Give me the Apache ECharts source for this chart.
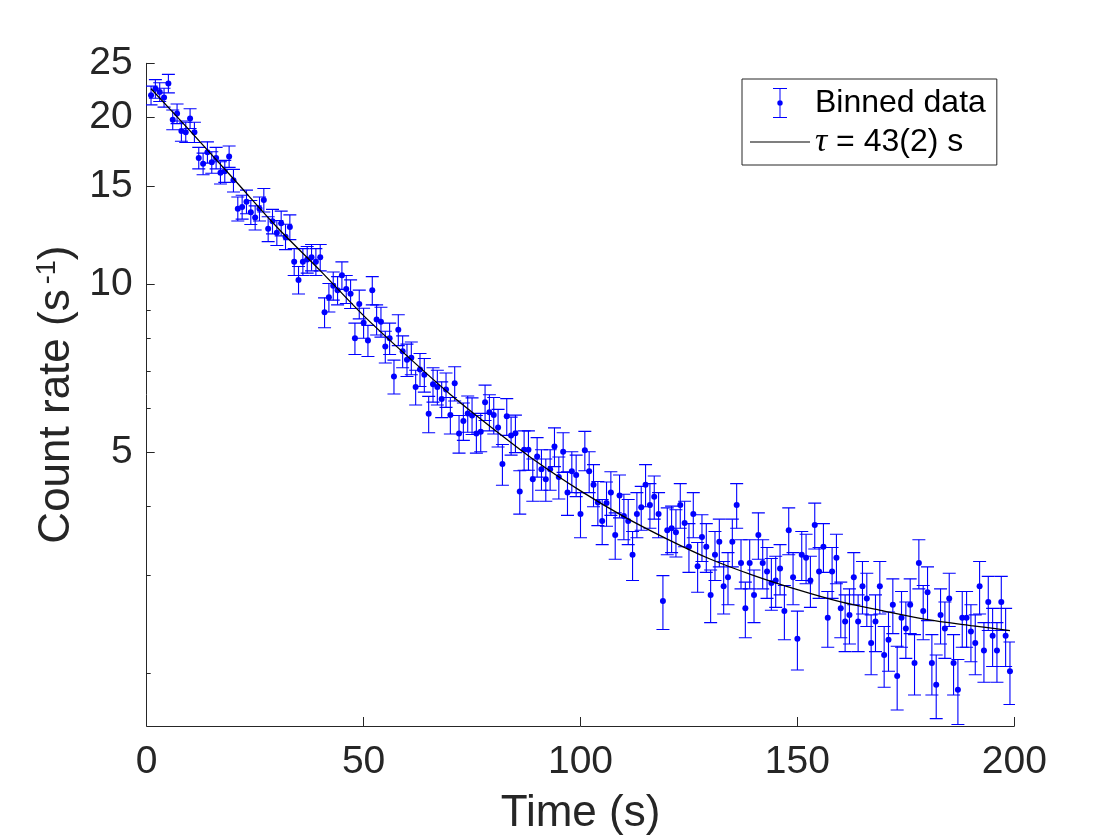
<!DOCTYPE html>
<html>
<head>
<meta charset="utf-8">
<script src="https://cdn.jsdelivr.net/npm/echarts@6.0.0/dist/echarts.min.js"></script>
<style>
  html, body { margin: 0; padding: 0; background: #fff; }
  #chart { width: 1120px; height: 840px; }
</style>
</head>
<body>
<div id="chart"></div>
<script>
// bin centres (s)
var time = [
    1, 2, 3, 4, 5, 6, 7, 8, 9, 10, 11, 12, 13, 14, 15, 16, 17, 18, 19, 20,
    21, 22, 23, 24, 25, 26, 27, 28, 29, 30, 31, 32, 33, 34, 35, 36, 37, 38, 39, 40,
    41, 42, 43, 44, 45, 46, 47, 48, 49, 50, 51, 52, 53, 54, 55, 56, 57, 58, 59, 60,
    61, 62, 63, 64, 65, 66, 67, 68, 69, 70, 71, 72, 73, 74, 75, 76, 77, 78, 79, 80,
    81, 82, 83, 84, 85, 86, 87, 88, 89, 90, 91, 92, 93, 94, 95, 96, 97, 98, 99, 100,
    101, 102, 103, 104, 105, 106, 107, 108, 109, 110, 111, 112, 113, 114, 115, 116, 117, 118, 119, 120,
    121, 122, 123, 124, 125, 126, 127, 128, 129, 130, 131, 132, 133, 134, 135, 136, 137, 138, 139, 140,
    141, 142, 143, 144, 145, 146, 147, 148, 149, 150, 151, 152, 153, 154, 155, 156, 157, 158, 159, 160,
    161, 162, 163, 164, 165, 166, 167, 168, 169, 170, 171, 172, 173, 174, 175, 176, 177, 178, 179, 180,
    181, 182, 183, 184, 185, 186, 187, 188, 189, 190, 191, 192, 193, 194, 195, 196, 197, 198, 199
];

// count rate (1/s)
var rate = [
    21.9, 22.5, 22.2, 21.7, 23.0, 19.8, 20.3, 18.9, 18.8, 19.9, 18.8, 16.9, 16.5, 17.3, 16.6, 16.9, 15.9, 16.0, 17.0, 15.4,
    13.7, 13.8, 14.1, 13.5, 13.2, 13.7, 14.2, 12.6, 13.0, 12.4, 12.9, 12.2, 12.7,
    11.0, 10.2, 11.0, 11.1, 11.2, 11.0, 11.2, 8.92, 9.49, 9.96, 9.77, 10.4, 9.82, 9.63, 8.01, 9.23, 8.54, 7.94,
    9.77, 8.66, 8.58, 7.74, 8.01, 6.84, 8.30, 7.59, 7.33, 7.39, 6.55, 7.04, 6.89, 5.86,
    6.62, 6.55, 6.23, 6.48, 5.83, 6.65, 5.40, 5.69, 5.87, 5.82, 5.40, 5.44, 6.15, 5.90, 5.83, 5.54,
    4.76, 5.80, 5.36, 5.41, 4.25, 5.05, 5.05, 4.47, 4.91, 4.66, 4.47, 4.66, 5.12, 4.51, 5.01, 4.23,
    4.62, 4.55, 3.87, 5.04, 4.62, 4.37, 4.06, 3.76, 4.05, 4.23, 3.55, 4.18, 3.84, 3.76, 3.27, 3.87,
    3.98, 4.37, 4.02, 4.16, 3.87, 2.70, 3.62, 3.65, 3.59, 4.02, 3.73, 3.38, 3.87, 3.12, 3.52, 3.38,
    2.77, 3.27, 3.45, 2.87, 2.98, 3.45, 4.02, 3.16, 2.62, 3.16, 2.77, 3.55, 3.16, 3.05, 2.91, 2.94, 3.09, 2.59,
    3.62, 2.98, 2.31, 3.27, 3.23, 2.94, 3.70, 3.05, 3.38, 2.52, 3.05, 3.23, 2.62, 2.48, 2.55, 2.98, 2.48,
    2.87, 2.73, 2.27, 2.48, 2.87, 2.16, 2.30, 2.66, 1.98, 2.52, 2.41, 2.66, 2.09, 3.16, 2.59, 2.80, 2.09, 1.91,
    2.55, 2.41, 2.73, 2.09, 1.87, 2.52, 2.52, 2.38, 2.27, 2.87, 2.20, 2.69, 2.34, 2.20, 2.69, 2.34, 2.02
];

// one-sigma error of each bin (1/s)
var rateErr = [
    0.85, 0.87, 0.86, 0.85, 0.88, 0.81, 0.82, 0.79, 0.79, 0.81, 0.79, 0.75, 0.74, 0.76, 0.74, 0.75, 0.73, 0.73, 0.75, 0.72,
    0.68, 0.68, 0.69, 0.67, 0.66, 0.68, 0.69, 0.65, 0.66, 0.64, 0.66, 0.64, 0.65,
    0.61, 0.58, 0.61, 0.61, 0.61, 0.61, 0.61, 0.55, 0.56, 0.58, 0.57, 0.59, 0.57, 0.57, 0.52, 0.55, 0.53, 0.51,
    0.57, 0.54, 0.53, 0.51, 0.52, 0.48, 0.53, 0.50, 0.49, 0.50, 0.47, 0.48, 0.48, 0.44,
    0.47, 0.47, 0.46, 0.46, 0.44, 0.47, 0.42, 0.44, 0.44, 0.44, 0.42, 0.43, 0.45, 0.44, 0.44, 0.43,
    0.40, 0.44, 0.42, 0.42, 0.38, 0.41, 0.41, 0.39, 0.40, 0.39, 0.39, 0.39, 0.41, 0.39, 0.41, 0.38,
    0.39, 0.39, 0.36, 0.41, 0.39, 0.38, 0.37, 0.35, 0.37, 0.38, 0.34, 0.37, 0.36, 0.35, 0.33, 0.36,
    0.36, 0.38, 0.37, 0.37, 0.36, 0.30, 0.35, 0.35, 0.35, 0.37, 0.35, 0.34, 0.36, 0.32, 0.34, 0.34,
    0.30, 0.33, 0.34, 0.31, 0.32, 0.34, 0.37, 0.32, 0.30, 0.32, 0.30, 0.34, 0.32, 0.32, 0.31, 0.31, 0.32, 0.29,
    0.35, 0.32, 0.28, 0.33, 0.33, 0.31, 0.35, 0.32, 0.34, 0.29, 0.32, 0.33, 0.30, 0.29, 0.29, 0.32, 0.29,
    0.31, 0.30, 0.28, 0.29, 0.31, 0.27, 0.28, 0.30, 0.26, 0.29, 0.28, 0.30, 0.26, 0.32, 0.29, 0.31, 0.26, 0.25,
    0.29, 0.28, 0.30, 0.26, 0.25, 0.29, 0.29, 0.28, 0.28, 0.31, 0.27, 0.30, 0.28, 0.27, 0.30, 0.28, 0.26
];

// fitted curve
var fitTime = [1, 10, 20, 30, 40, 50, 60, 70, 80, 90, 100, 110, 120, 130, 140, 150, 160, 170, 180, 190, 199];
var fitRate = [22.5, 18.9, 15.5, 12.7, 10.6, 8.8, 7.45, 6.35, 5.5, 4.8, 4.26, 3.83, 3.49, 3.21, 3.0, 2.83, 2.69, 2.59, 2.5, 2.44, 2.39];

var yMajorTicks = [5, 10, 15, 20, 25];
var yMinorTicks = [2, 3, 4, 6, 7, 8, 9];
var xTicks = [0, 50, 100, 150, 200];

var dataName = 'Binned data';
var fitName = 'τ = 43(2) s';

var FONT = '"Liberation Sans", Arial, Helvetica, sans-serif';
var INK = '#262626';
var BLUE = '#0000ff';

// legend glyphs: error bar with dot, plain line
var errIcon = 'path://M0,0L14,0L14,1L0,1Z M6.5,1L7.5,1L7.5,12.2L6.5,12.2Z '
    + 'M6.5,17.8L7.5,17.8L7.5,29L6.5,29Z M0,29L14,29L14,30L0,30Z '
    + 'M9.7,15A2.7,2.7,0,1,1,4.3,15A2.7,2.7,0,1,1,9.7,15Z';
var lineIcon = 'path://M0,0L60,0L60,1.2L0,1.2Z';

var chart = echarts.init(document.getElementById('chart'));

var pts = [];
var bars = [];
for (var i = 0; i < time.length; i++) {
    pts.push([time[i], rate[i]]);
    bars.push([time[i], rate[i] - rateErr[i], rate[i] + rateErr[i]]);
}
var fit = [];
for (var j = 0; j < fitTime.length; j++) {
    fit.push([fitTime[j], fitRate[j]]);
}

function renderErrorBar(params, api) {
    var x = api.value(0);
    var top = api.coord([x, api.value(2)]);
    var bot = api.coord([x, api.value(1)]);
    var w = 6.5;
    var style = {stroke: BLUE, lineWidth: 1.1, fill: null};
    return {
        type: 'group',
        children: [
            {type: 'line', shape: {x1: top[0], y1: top[1], x2: bot[0], y2: bot[1]}, style: style},
            {type: 'line', shape: {x1: top[0] - w, y1: top[1], x2: top[0] + w, y2: top[1]}, style: style},
            {type: 'line', shape: {x1: bot[0] - w, y1: bot[1], x2: bot[0] + w, y2: bot[1]}, style: style}
        ]
    };
}

var option = {
    backgroundColor: '#fff',
    animation: false,
    textStyle: {fontFamily: FONT, color: INK},
    grid: {
        left: 146.7,
        right: 105.7,
        top: 63.3,
        bottom: 114,
        containLabel: false,
        outerBoundsMode: 'none'
    },
    legend: {
        orient: 'vertical',
        left: 742,
        top: 79,
        align: 'left',
        padding: [8, 11, 6, 8],
        itemWidth: 60,
        itemHeight: 30,
        itemGap: 6,
        itemTextGap: 6,
        borderColor: INK,
        borderWidth: 1,
        backgroundColor: '#fff',
        symbolKeepAspect: true,
        data: [
            {name: dataName, icon: errIcon, itemStyle: {color: BLUE}},
            {name: fitName, icon: lineIcon, itemStyle: {color: '#000'}}
        ],
        formatter: function (name) {
            return name === fitName ? '{it|τ} = 43(2) s' : name;
        },
        textStyle: {
            fontFamily: FONT,
            fontSize: 32,
            color: '#000',
            rich: {
                it: {fontFamily: '"Liberation Serif", serif', fontStyle: 'italic', fontSize: 34, color: '#000'}
            }
        }
    },
    xAxis: {
        type: 'value',
        min: 0,
        max: 200,
        interval: 50,
        name: 'Time (s)',
        nameLocation: 'middle',
        nameGap: 66,
        nameTextStyle: {fontFamily: FONT, fontSize: 44, color: INK},
        axisLine: {show: true, lineStyle: {color: INK, width: 1}},
        axisTick: {show: true, inside: true, length: 9, lineStyle: {color: INK}, customValues: xTicks},
        axisLabel: {fontFamily: FONT, fontSize: 39, color: INK, margin: 17, customValues: xTicks},
        splitLine: {show: false}
    },
    yAxis: [
        {
            type: 'log',
            logBase: 10,
            min: 1.61,
            max: 25,
            name: 'Count rate (s{sup|-1})',
            nameLocation: 'middle',
            nameRotate: 90,
            nameGap: 56,
            nameTextStyle: {
                fontFamily: FONT,
                fontSize: 44,
                color: INK,
                rich: {
                    sup: {fontFamily: FONT, fontSize: 27, color: INK, verticalAlign: 'top', padding: [0, 0, 18, 5]}
                }
            },
            axisLine: {show: true, lineStyle: {color: INK, width: 1}},
            axisTick: {show: true, inside: true, length: 8, lineStyle: {color: INK}, customValues: yMajorTicks},
            axisLabel: {fontFamily: FONT, fontSize: 39, color: INK, margin: 14, customValues: yMajorTicks},
            splitLine: {show: false},
            minorTick: {show: false}
        },
        {
            type: 'log',
            logBase: 10,
            min: 1.61,
            max: 25,
            position: 'left',
            axisLine: {show: false},
            axisTick: {show: true, inside: true, length: 4, lineStyle: {color: INK}, customValues: yMinorTicks},
            axisLabel: {show: false},
            splitLine: {show: false}
        }
    ],
    series: [
        {
            type: 'custom',
            name: 'errorbars',
            renderItem: renderErrorBar,
            data: bars,
            encode: {x: 0, y: [1, 2]},
            clip: true,
            z: 2,
            silent: true
        },
        {
            type: 'scatter',
            name: dataName,
            data: pts,
            symbol: 'circle',
            symbolSize: 6,
            itemStyle: {color: BLUE, opacity: 1},
            z: 3
        },
        {
            type: 'line',
            name: fitName,
            data: fit,
            smooth: 0.3,
            showSymbol: false,
            symbol: 'none',
            lineStyle: {color: '#000', width: 1.3},
            itemStyle: {color: '#000'},
            z: 4
        }
    ]
};

chart.setOption(option);
</script>
</body>
</html>
